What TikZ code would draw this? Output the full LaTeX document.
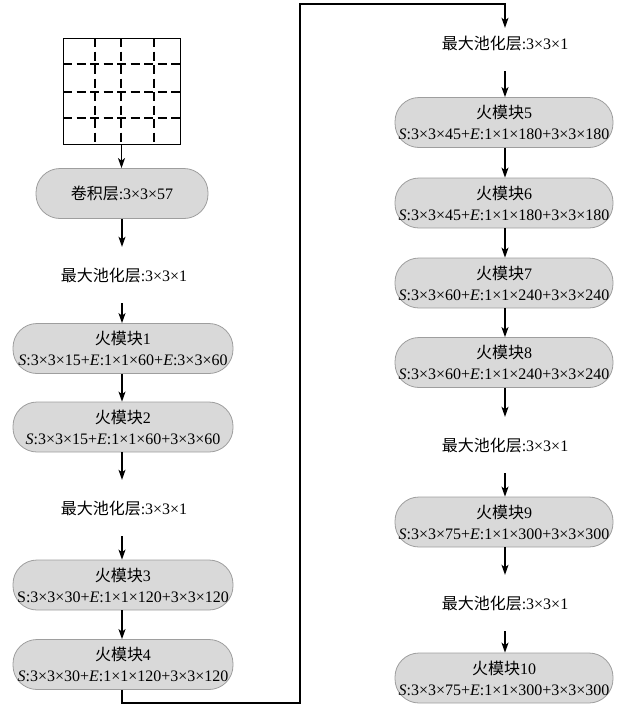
\documentclass[tikz,border=0pt]{standalone}
\usepackage{fontspec}
\setmainfont{Liberation Serif}
\newfontfamily\cjk{Noto Sans CJK SC}
\usetikzlibrary{arrows.meta}
\begin{document}
\begin{tikzpicture}[x=1pt,y=-1pt,
  blk/.style={draw=black!38, fill=black!15, line width=0.8pt, rounded corners=24pt,
    minimum width=220pt, minimum height=50pt, inner sep=0pt, align=center,
    font=\fontsize{16}{21}\selectfont},
  pool/.style={minimum height=56pt, inner sep=0pt, font=\fontsize{16}{21}\selectfont},
  arr/.style={-{Stealth[length=10pt,width=7pt,inset=2.5pt]}, line width=1.2pt},
  gridline/.style={line width=1.3pt, dash pattern=on 9pt off 4.5pt}]
\useasboundingbox (0,0) rectangle (620,705);
% input grid
\node[draw, line width=1pt, minimum width=117pt, minimum height=106pt, inner sep=0pt] (grid) at (121.5,91) {};
\foreach \gx in {95,121,154} \draw[gridline] (\gx,38) -- (\gx,144);
\foreach \gy in {64,92,118} \draw[gridline] (63,\gy) -- (180,\gy);
% left column
\node[blk, minimum width=172pt] (conv) at (122,193.5) {{\cjk 卷积层}:3×3×57};
\node[pool] (p1) at (124,275) {{\cjk 最大池化层}:3×3×1};
\node[blk] (f1) at (123,348.5) {{\cjk 火模块}1\\\textit{S}:3×3×15+\textit{E}:1×1×60+\textit{E}:3×3×60};
\node[blk] (f2) at (123,427) {{\cjk 火模块}2\\\textit{S}:3×3×15+\textit{E}:1×1×60+3×3×60};
\node[pool] (p2) at (124,508) {{\cjk 最大池化层}:3×3×1};
\node[blk] (f3) at (123,585) {{\cjk 火模块}3\\S:3×3×30+\textit{E}:1×1×120+3×3×120};
\node[blk] (f4) at (123,664.5) {{\cjk 火模块}4\\\textit{S}:3×3×30+\textit{E}:1×1×120+3×3×120};
% right column
\node[pool] (p3) at (505,43) {{\cjk 最大池化层}:3×3×1};
\node[blk, minimum width=218pt] (f5) at (504,122.5) {{\cjk 火模块}5\\\textit{S}:3×3×45+\textit{E}:1×1×180+3×3×180};
\node[blk, minimum width=218pt] (f6) at (504,203) {{\cjk 火模块}6\\\textit{S}:3×3×45+\textit{E}:1×1×180+3×3×180};
\node[blk, minimum width=218pt] (f7) at (504,283) {{\cjk 火模块}7\\\textit{S}:3×3×60+\textit{E}:1×1×240+3×3×240};
\node[blk, minimum width=218pt] (f8) at (504,362.5) {{\cjk 火模块}8\\\textit{S}:3×3×60+\textit{E}:1×1×240+3×3×240};
\node[pool] (p4) at (505,445) {{\cjk 最大池化层}:3×3×1};
\node[blk, minimum width=218pt] (f9) at (504,522) {{\cjk 火模块}9\\\textit{S}:3×3×75+\textit{E}:1×1×300+3×3×300};
\node[pool] (p5) at (505,603) {{\cjk 最大池化层}:3×3×1};
\node[blk, minimum width=218pt] (f10) at (504,678) {{\cjk 火模块}10\\\textit{S}:3×3×75+\textit{E}:1×1×300+3×3×300};
% connectors
\draw[arr] (grid.south) -- (grid.south |- conv.north);
\draw[arr] (conv.south) -- (conv.south |- p1.north);
\draw[arr] (p1.south -| conv.south) -- (conv.south |- f1.north);
\draw[arr] (f1.south -| conv.south) -- (conv.south |- f2.north);
\draw[arr] (f2.south -| conv.south) -- (conv.south |- p2.north);
\draw[arr] (p2.south -| conv.south) -- (conv.south |- f3.north);
\draw[arr] (f3.south -| conv.south) -- (conv.south |- f4.north);
\draw[arr] (f4.south -| conv.south) -- ++(0,13) -| (300,4) -| ([yshift=-13pt]p3.north);
\draw[arr] (p3.south) -- (p3.south |- f5.north);
\draw[arr] (f5.south -| p3.south) -- (p3.south |- f6.north);
\draw[arr] (f6.south -| p3.south) -- (p3.south |- f7.north);
\draw[arr] (f7.south -| p3.south) -- (p3.south |- f8.north);
\draw[arr] (f8.south -| p3.south) -- (p3.south |- p4.north);
\draw[arr] (p4.south) -- (p4.south |- f9.north);
\draw[arr] (f9.south -| p4.south) -- (p4.south |- p5.north);
\draw[arr] (p5.south) -- (p5.south |- f10.north);
\end{tikzpicture}
\end{document}
